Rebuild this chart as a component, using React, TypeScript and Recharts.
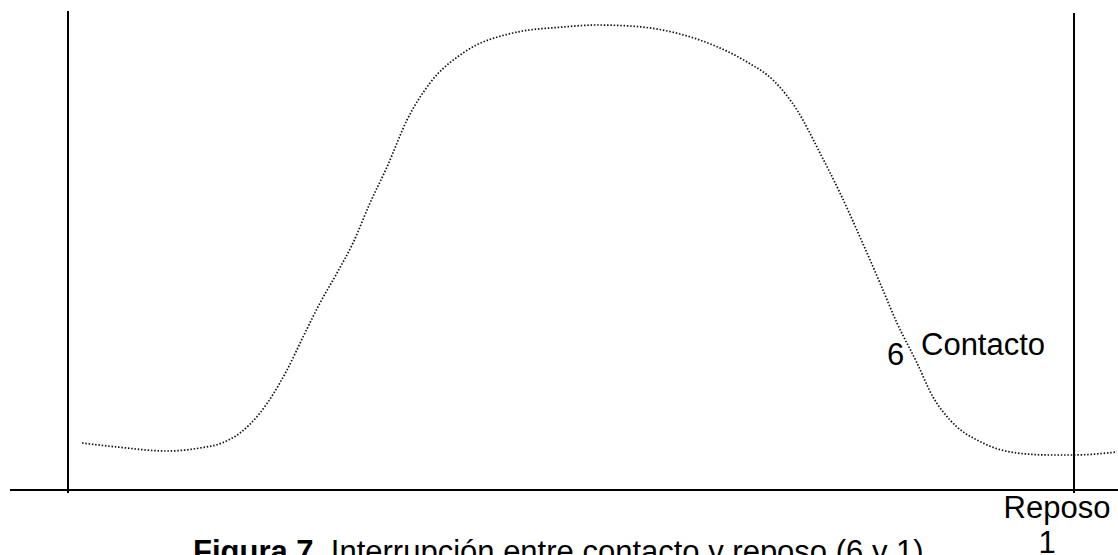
// Figura 7: dotted trace between contact (6) and rest (1) with the two
// vertical markers and the baseline.
import { Line, LineChart, ReferenceDot, ReferenceLine, XAxis, YAxis } from "recharts";

const curveX = [
  82, 117, 167, 200, 222, 240, 260, 287, 303, 320, 337, 353, 370, 387, 407, 430, 463, 513, 563,
  597, 630, 680, 713, 747, 773, 797, 820, 840, 860, 880, 897, 917, 933, 950, 983, 1017, 1050,
  1073, 1117,
];
const curveY = [
  47, 43, 39, 42, 47, 57, 77, 120, 153, 187, 217, 247, 287, 323, 370, 407, 437, 457, 463, 465,
  464, 456, 445, 428, 410, 380, 337, 297, 253, 207, 167, 127, 93, 70, 47, 37, 35, 35, 38,
];

const markerX = [68, 1074];
const markerTop = [479, 477];
const baseline = { from: 10, to: 1118 };

const labels = [
  { x: 887, y: 125, text: "6" },
  { x: 921, y: 135, text: "Contacto" },
  { x: 1057, y: -28, text: "Reposo", anchor: "middle" },
  { x: 1047, y: -63, text: "1", anchor: "middle" },
];

const caption = { x: 193, y: -72, bold: "Figura 7.", rest: " Interrupción entre contacto y reposo (6 y 1)" };

const data = curveX.map((x, i) => ({ x, v: curveY[i] }));
const font = "'Liberation Sans', Arial, sans-serif";

const textAt =
  (text: string, anchor = "start") =>
  ({ viewBox }: any) => (
    <text
      x={viewBox.x + viewBox.width / 2}
      y={viewBox.y + viewBox.height / 2}
      textAnchor={anchor}
      fontFamily={font}
      fontSize={31}
      fill="#000"
    >
      {text}
    </text>
  );

const captionLabel = ({ viewBox }: any) => (
  <text
    x={viewBox.x + viewBox.width / 2}
    y={viewBox.y + viewBox.height / 2}
    fontFamily={font}
    fontSize={31}
    fill="#000"
  >
    <tspan fontWeight="bold">{caption.bold}</tspan>
    <tspan>{caption.rest}</tspan>
  </text>
);

export default function App() {
  return (
    <div style={{ width: 1118, height: 555, background: "#fff" }}>
      <style>{`body{margin:0}`}</style>
      <LineChart width={1118} height={555} data={data} margin={{ top: 0, right: 0, bottom: 0, left: 0 }}>
        <XAxis type="number" dataKey="x" domain={[0, 1118]} hide />
        <YAxis type="number" domain={[-65, 490]} hide />
        <ReferenceLine
          segment={[
            { x: baseline.from, y: 0 },
            { x: baseline.to, y: 0 },
          ]}
          stroke="#000"
          strokeWidth={2}
          ifOverflow="visible"
        />
        {markerX.map((x, i) => (
          <ReferenceLine
            key={x}
            segment={[
              { x, y: markerTop[i] },
              { x, y: -3 },
            ]}
            stroke="#000"
            strokeWidth={2}
            ifOverflow="visible"
          />
        ))}
        <Line
          type="monotone"
          dataKey="v"
          stroke="#111"
          strokeWidth={1.7}
          strokeDasharray="1.5 1.8"
          strokeLinecap="butt"
          dot={false}
          activeDot={false}
          isAnimationActive={false}
        />
        {labels.map(l => (
          <ReferenceDot
            key={l.text}
            x={l.x}
            y={l.y}
            r={1}
            fill="none"
            stroke="none"
            ifOverflow="visible"
            label={textAt(l.text, l.anchor)}
          />
        ))}
        <ReferenceDot
          x={caption.x}
          y={caption.y}
          r={1}
          fill="none"
          stroke="none"
          ifOverflow="visible"
          label={captionLabel}
        />
      </LineChart>
    </div>
  );
}
